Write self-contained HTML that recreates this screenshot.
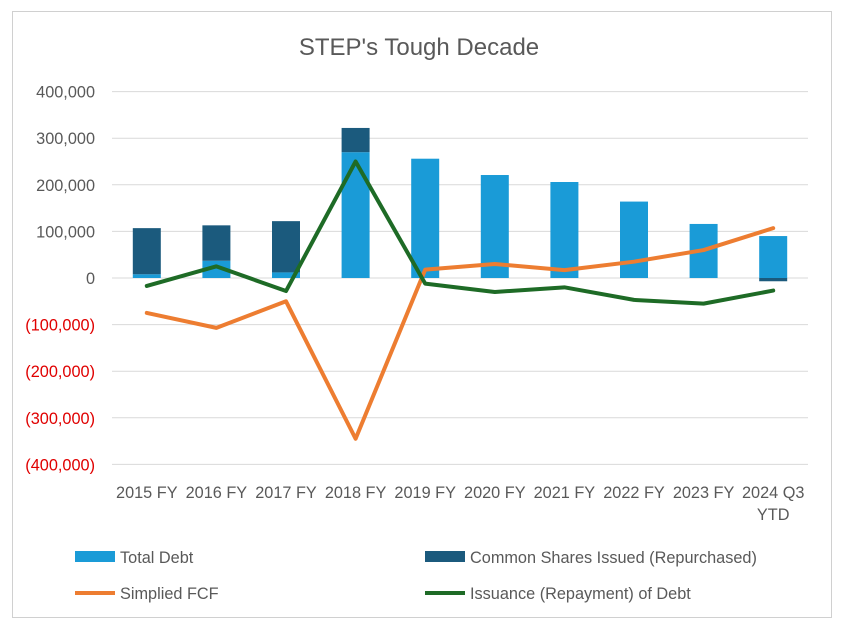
<!DOCTYPE html>
<html><head><meta charset="utf-8"><style>
body{margin:0;background:#fff;}
svg text{font-family:"Liberation Sans",sans-serif;}
</style></head><body>
<svg width="841" height="629" xmlns="http://www.w3.org/2000/svg">
<rect x="12.5" y="11.5" width="819" height="606" fill="#fff" stroke="#d0d0d0"/>
<text x="419" y="55" text-anchor="middle" font-size="24" fill="#595959">STEP's Tough Decade</text>
<g id="grid"></g><g id="bars"></g><g id="lines"></g><g id="axes"></g>
<g>
<rect x="75" y="551" width="40" height="11" fill="#1a9bd7"/>
<text x="120" y="563" font-size="16.3" fill="#595959">Total Debt</text>
<rect x="425" y="551" width="40" height="11" fill="#1b5a7d"/>
<text x="470" y="563" font-size="16.3" fill="#595959">Common Shares Issued (Repurchased)</text>
<line x1="75" y1="593" x2="115" y2="593" stroke="#ed7d31" stroke-width="4"/>
<text x="120" y="599" font-size="16.3" fill="#595959">Simplied FCF</text>
<line x1="425" y1="593" x2="465" y2="593" stroke="#1e6b26" stroke-width="4"/>
<text x="470" y="599" font-size="16.3" fill="#595959">Issuance (Repayment) of Debt</text>
</g>
</svg>
<script>
const categories=["2015 FY","2016 FY","2017 FY","2018 FY","2019 FY","2020 FY","2021 FY","2022 FY","2023 FY","2024 Q3|YTD"];
const totalDebt=[8000,37000,12000,270000,256000,221000,206000,164000,116000,90000];
const sharesIssued=[99000,76000,110000,52000,0,0,0,0,0,-7000];
const simplifiedFCF=[-75000,-107000,-50000,-345000,18000,30000,17000,35000,60000,107000];
const debtIssuance=[-17000,25000,-28000,250000,-12000,-30000,-20000,-47000,-55000,-27000];
const yTicks=[400000,300000,200000,100000,0,-100000,-200000,-300000,-400000];
const NS="http://www.w3.org/2000/svg";
const L=112,R=808,Y0=278,K=46.6/100000;
const step=(R-L)/categories.length;
const xc=i=>L+step*(i+0.5);
const y=v=>Y0-v*K;
function mk(tag,at,parent){const e=document.createElementNS(NS,tag);for(const k in at)e.setAttribute(k,at[k]);document.getElementById(parent).appendChild(e);return e;}
yTicks.forEach(t=>{
 const g=mk("line",{x1:L,x2:R,y1:y(t),y2:y(t),stroke:"#d9d9d9","stroke-width":1},"grid");
 
 
 const tx=mk("text",{x:95,y:y(t)+6,"text-anchor":"end","font-size":16.3,fill:t<0?"#e00000":"#595959"},"axes");
 tx.textContent=t<0?"("+Math.abs(t).toLocaleString("en-US")+")":t.toLocaleString("en-US");
 
 
});
const bw=28;
categories.forEach((c,i)=>{
 const d=totalDebt[i],s=sharesIssued[i];
 const b=mk("rect",{x:xc(i)-bw/2,y:y(Math.max(d,0)),width:bw,height:Math.abs(d)*K,fill:"#1a9bd7"},"bars");
 
 
 if(s!==0){
  const top=s>0?d+s:0,bot=s>0?d:s;
  const r=mk("rect",{x:xc(i)-bw/2,y:y(top),width:bw,height:(top-bot)*K,fill:"#1b5a7d"},"bars");
  
  
 }
 const parts=c.split("|");
 parts.forEach((p,j)=>{
  const t=mk("text",{x:xc(i),y:498+j*22,"text-anchor":"middle","font-size":16.3,fill:"#595959"},"axes");
  t.textContent=p;
  
  
 });
});
function line(vals,color,name){
 const p=mk("polyline",{points:vals.map((v,i)=>xc(i)+","+y(v)).join(" "),fill:"none",stroke:color,"stroke-width":4,"stroke-linejoin":"round","stroke-linecap":"round"},"lines");
 
 
}
line(simplifiedFCF,"#ed7d31","line-simplified-fcf");
line(debtIssuance,"#1e6b26","line-debt-issuance");
</script>
</body></html>
